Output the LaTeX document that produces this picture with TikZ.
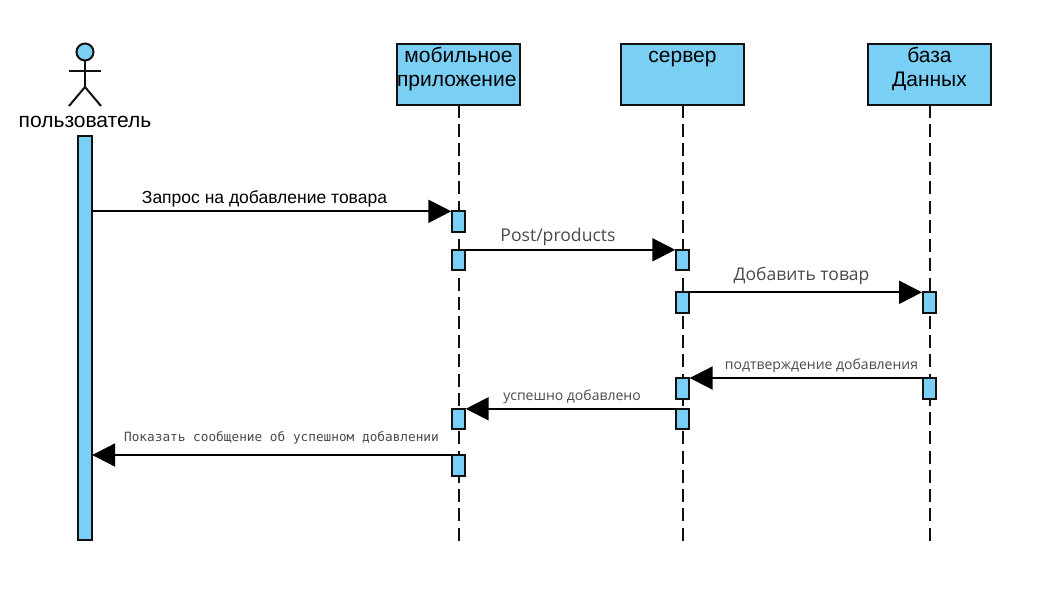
\documentclass[tikz,border=0pt]{standalone}
\usepackage{fontspec}
\setmainfont{Liberation Sans}
\newfontfamily\notof{Open Sans}
\newfontfamily\monof{DejaVu Sans Mono}
\usetikzlibrary{arrows.meta}
\definecolor{fillblue}{HTML}{7ACFF5}
\definecolor{ink}{HTML}{111111}
\definecolor{softink}{HTML}{4A4A4A}
\tikzset{
  x=1pt,y=-1pt,
  head box/.style={draw=ink,fill=fillblue,line width=2pt,inner sep=0pt,outer sep=0pt,minimum width=123pt,minimum height=61pt,anchor=north west,font=\fontsize{21}{24}\selectfont},
  activation/.style={draw=ink,fill=fillblue,line width=2pt,inner sep=0pt,outer sep=0pt,minimum width=13.4pt,minimum height=20.5pt,anchor=north},
  lifeline/.style={draw=ink,line width=2pt,dash pattern=on 13pt off 6.23pt},
  message/.style={draw=black,line width=2.1pt,-{Triangle[length=23pt,width=23pt]},shorten >=0.5pt},
  stick/.style={draw=ink,line width=2pt},
  msg text/.style={inner sep=0pt,anchor=base},
}
\newcommand{\boxtext}[1]{\parbox[c][61pt][t]{123pt}{\centering\rule{0pt}{19.2pt}#1}}
\begin{document}
\begin{tikzpicture}
\useasboundingbox (0,0) rectangle (1048,597);
% head boxes
\node[head box] (mob) at (397,43.5) {\boxtext{мобильное\\приложение\hspace*{4pt}}};
\node[head box] (srv) at (621,43.5) {\boxtext{сервер}};
\node[head box] (db) at (868,43.5) {\boxtext{база\\Данных}};
% lifeline ends
\coordinate (mobend) at (458.5,540.5);
\coordinate (srvend) at (682.5,540.5);
\coordinate (dbend) at (929.5,540.5);
\draw[lifeline] (mob.south) -- (mobend);
\draw[lifeline] (srv.south) -- (srvend);
\draw[lifeline] (db.south) -- (dbend);
% actor
\node[draw=ink,fill=fillblue,line width=2pt,circle,inner sep=0pt,outer sep=0pt,minimum size=17pt] (head) at (85,52) {};
\coordinate (hip) at (85,87);
\coordinate (armL) at (69,71);
\coordinate (armR) at (101,71);
\coordinate (legL) at (69,106);
\coordinate (legR) at (101,106);
\draw[stick] (head.south) -- (hip);
\draw[stick] (armL) -- (armR);
\draw[stick] (legL) -- (hip) -- (legR);
\node[inner sep=0pt,anchor=base,font=\fontsize{21}{24}\selectfont] (userlabel) at (85,127) {пользователь};
\node[activation,minimum height=404pt] (user) at (85,136) {};
% activations
\node[activation] (m1) at (458.5,211.3) {};
\node[activation] (m2) at (458.5,249.8) {};
\node[activation] (s1) at (682.5,249.8) {};
\node[activation] (s2) at (682.5,292.3) {};
\node[activation] (d1) at (929.2,292.3) {};
\node[activation] (d2) at (929.2,378) {};
\node[activation] (s3) at (682.5,378) {};
\node[activation] (s4) at (682.5,408.8) {};
\node[activation] (m3) at (458.5,408.8) {};
\node[activation] (m4) at (458.5,455) {};
% messages
\draw[message] (user.east |- m1.north) -- (m1.north west);
\draw[message] (m2.north east) -- (s1.north west);
\draw[message] (s2.north east) -- (d1.north west);
\draw[message] (d2.north west) -- (s3.north east);
\draw[message] (s4.north west) -- (m3.north east);
\draw[message] (m4.north west) -- (user.east |- m4.north);
% labels
\node[msg text,font=\fontsize{17.5}{20}\selectfont] (t1) at (264.5,203) {Запрос на добавление товара};
\node[msg text,text=softink,font=\notof\fontsize{17.6}{20}\selectfont] (t2) at (558,241) {Post/products};
\node[msg text,text=softink,font=\notof\fontsize{17.5}{20}\selectfont] (t3) at (801.5,280) {Добавить товар};
\node[msg text,text=softink,font=\notof\fontsize{14}{16}\selectfont] (t4) at (821.5,369) {подтверждение добавления};
\node[msg text,text=softink,font=\notof\fontsize{14}{16}\selectfont] (t5) at (572,400) {успешно добавлено};
\node[msg text,text=softink,font=\monof\fontsize{12.75}{14}\selectfont] (t6) at (281.5,441) {Показать сообщение об успешном добавлении};
\end{tikzpicture}
\end{document}
